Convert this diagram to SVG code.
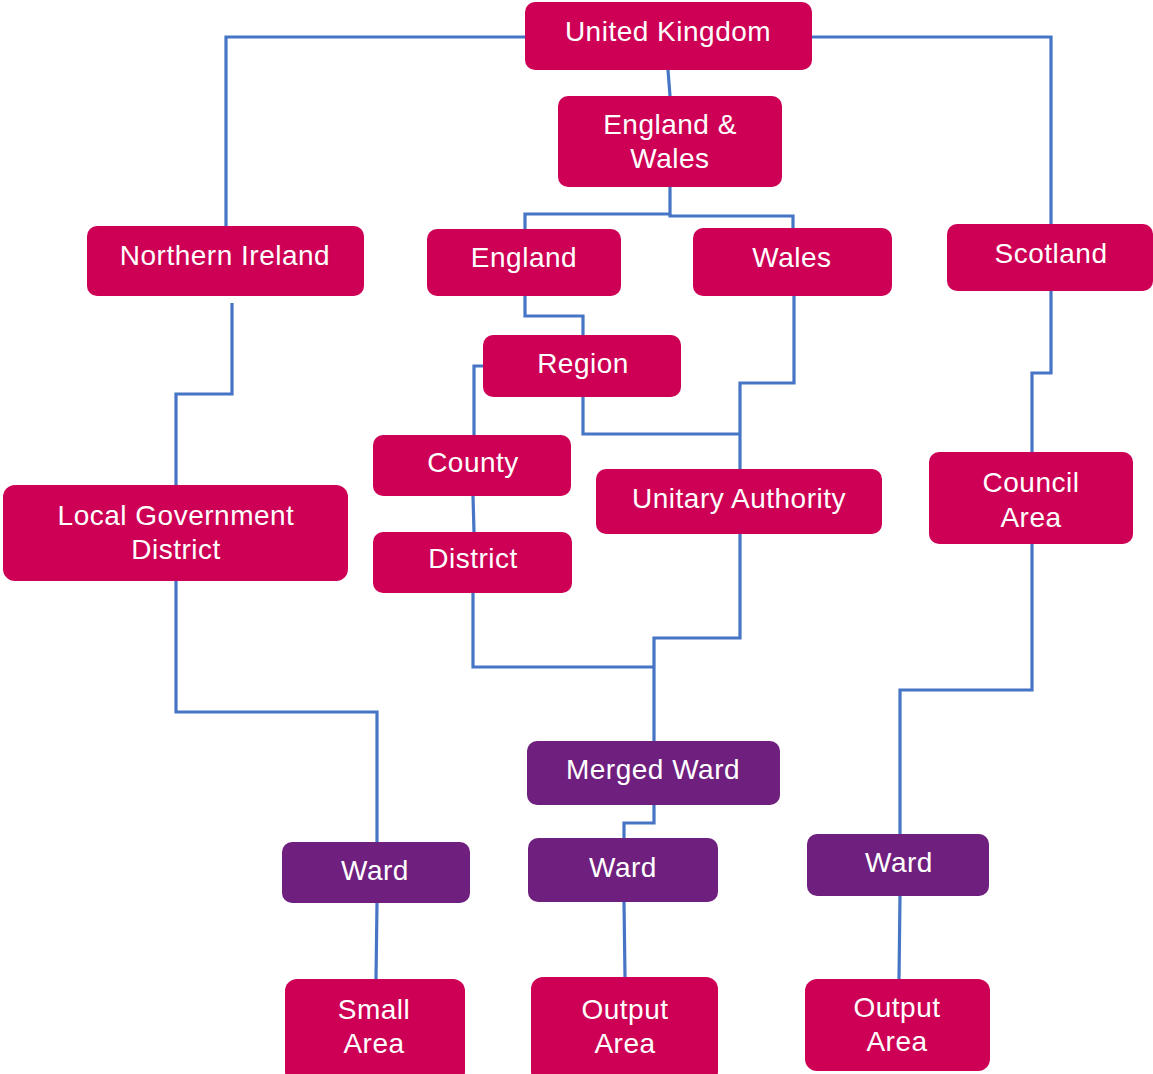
<svg xmlns="http://www.w3.org/2000/svg" width="1153" height="1074" viewBox="0 0 1153 1074">
<style>
.p{fill:#CD0055}
.v{fill:#6F1F7E}
.t{font-family:"Liberation Sans",Arial,sans-serif;font-size:28px;letter-spacing:0.5px;fill:#ffffff;text-anchor:middle}
.c{fill:none;stroke:#4775C6;stroke-width:3.2}
</style>
<rect width="1153" height="1074" fill="#ffffff"/>
<g id="connectors">
<path class="c" d="M525,37 H226 V226"/>
<path class="c" d="M812,37 H1051 V224"/>
<path class="c" d="M668,70 L670,96"/>
<path class="c" d="M670,187 V214 H525 V229"/>
<path class="c" d="M670,214 V216 H793 V228"/>
<path class="c" d="M525,296 V316 H583 V335"/>
<path class="c" d="M483,366 H474 V435"/>
<path class="c" d="M583,397 V434 H740"/>
<path class="c" d="M794,296 V383 H740 V469"/>
<path class="c" d="M473,496 L474,532"/>
<path class="c" d="M473,593 V667 H654"/>
<path class="c" d="M740,534 V638 H654 V741"/>
<path class="c" d="M232,303 V394 H176 V485"/>
<path class="c" d="M176,581 V712 H377 V842"/>
<path class="c" d="M1051,291 V373 H1032 V452"/>
<path class="c" d="M1032,544 V690 H900 V834"/>
<path class="c" d="M654,805 V823 H624 V838"/>
<path class="c" d="M377,903 L376,979"/>
<path class="c" d="M624,902 L625,977"/>
<path class="c" d="M900,896 L899,979"/>
</g>
<g id="uk"><rect class="p" x="525" y="2" width="287" height="68" rx="10"/><text class="t" x="668" y="41">United Kingdom</text></g>
<g id="ew"><rect class="p" x="558" y="96" width="224" height="91" rx="10"/><text class="t" x="670" y="134">England &amp;</text><text class="t" x="670" y="168">Wales</text></g>
<g id="ni"><rect class="p" x="87" y="226" width="277" height="70" rx="10"/><text class="t" x="225" y="265">Northern Ireland</text></g>
<g id="england"><rect class="p" x="427" y="229" width="194" height="67" rx="10"/><text class="t" x="524" y="267">England</text></g>
<g id="wales"><rect class="p" x="693" y="228" width="199" height="68" rx="10"/><text class="t" x="792" y="267">Wales</text></g>
<g id="scotland"><rect class="p" x="947" y="224" width="206" height="67" rx="10"/><text class="t" x="1051" y="263">Scotland</text></g>
<g id="region"><rect class="p" x="483" y="335" width="198" height="62" rx="10"/><text class="t" x="583" y="373">Region</text></g>
<g id="county"><rect class="p" x="373" y="435" width="198" height="61" rx="10"/><text class="t" x="473" y="472">County</text></g>
<g id="district"><rect class="p" x="373" y="532" width="199" height="61" rx="10"/><text class="t" x="473" y="568">District</text></g>
<g id="ua"><rect class="p" x="596" y="469" width="286" height="65" rx="10"/><text class="t" x="739" y="508">Unitary Authority</text></g>
<g id="council"><rect class="p" x="929" y="452" width="204" height="92" rx="10"/><text class="t" x="1031" y="492">Council</text><text class="t" x="1031" y="527">Area</text></g>
<g id="lgd"><rect class="p" x="3" y="485" width="345" height="96" rx="12"/><text class="t" x="176" y="525">Local Government</text><text class="t" x="176" y="559">District</text></g>
<g id="merged"><rect class="v" x="527" y="741" width="253" height="64" rx="10"/><text class="t" x="653" y="779">Merged Ward</text></g>
<g id="ward-ni"><rect class="v" x="282" y="842" width="188" height="61" rx="10"/><text class="t" x="375" y="880">Ward</text></g>
<g id="ward-ew"><rect class="v" x="528" y="838" width="190" height="64" rx="10"/><text class="t" x="623" y="877">Ward</text></g>
<g id="ward-sc"><rect class="v" x="807" y="834" width="182" height="62" rx="10"/><text class="t" x="899" y="872">Ward</text></g>
<g id="sa"><rect class="p" x="285" y="979" width="180" height="105" rx="12"/><text class="t" x="374" y="1019">Small</text><text class="t" x="374" y="1053">Area</text></g>
<g id="oa-ew"><rect class="p" x="531" y="977" width="187" height="107" rx="12"/><text class="t" x="625" y="1019">Output</text><text class="t" x="625" y="1053">Area</text></g>
<g id="oa-sc"><rect class="p" x="805" y="979" width="185" height="92" rx="12"/><text class="t" x="897" y="1017">Output</text><text class="t" x="897" y="1051">Area</text></g>
</svg>
